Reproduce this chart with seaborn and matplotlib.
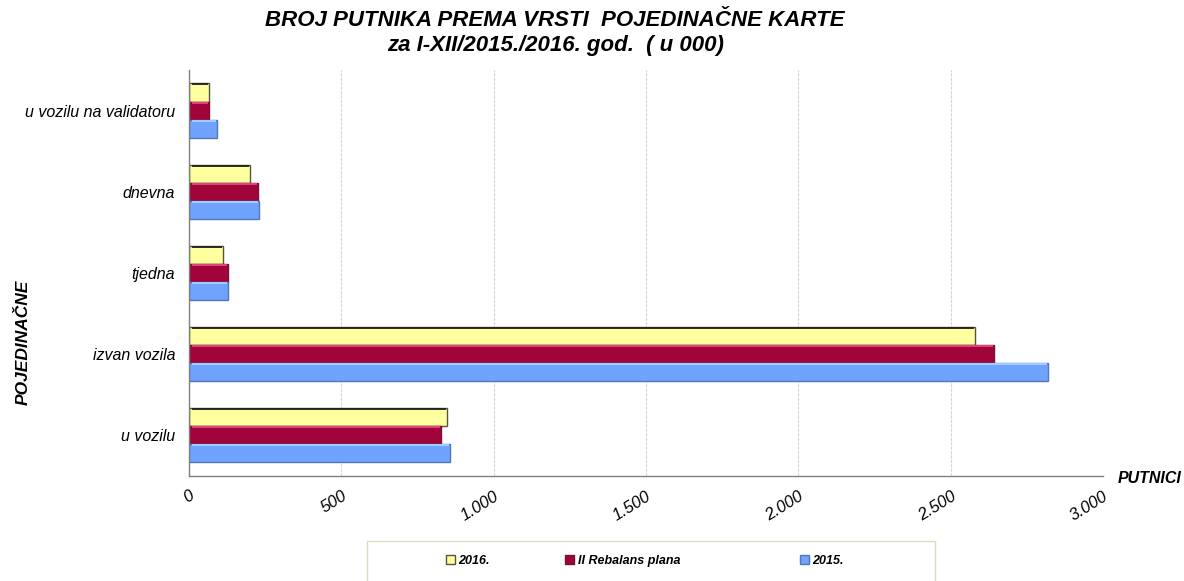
import matplotlib
matplotlib.use("Agg")
import matplotlib.pyplot as plt
import seaborn as sns
import pandas as pd

kategorije = ['u vozilu na validatoru', 'dnevna', 'tjedna', 'izvan vozila', 'u vozilu']
serije = ['2016.', 'II Rebalans plana', '2015.']
v2016 = [66, 200, 112, 2580, 847]
rebalans = [66, 226, 128, 2642, 827]
v2015 = [92, 230, 128, 2819, 857]
x_ticks = [0, 500, 1000, 1500, 2000, 2500, 3000]
x_labels = ['0', '500', '1.000', '1.500', '2.000', '2.500', '3.000']

boje = {'2016.': '#FFFFA0', 'II Rebalans plana': '#A0043A', '2015.': '#6FA3FF'}
rubovi = {'2016.': '#55553A', 'II Rebalans plana': '#7A1238', '2015.': '#5078B8'}
sjaj = {'2016.': '#202020', 'II Rebalans plana': '#E84A7E', '2015.': '#A8D4FF'}

rows = []
for serija, vals in zip(serije, [v2016, rebalans, v2015]):
    for k, v in zip(kategorije, vals):
        rows.append({'karta': k, 'serija': serija, 'putnici': v})
df = pd.DataFrame(rows)

sns.set_style("white")
plt.rcParams['font.family'] = ['Liberation Sans', 'DejaVu Sans']
for key in ['text.color', 'axes.labelcolor', 'xtick.color', 'ytick.color']:
    plt.rcParams[key] = 'black'

fig = plt.figure(figsize=(11.84, 5.81), dpi=100)
ax = fig.add_axes([0.1596, 0.181, 0.7720, 0.6985])

sns.barplot(data=df, y='karta', x='putnici', hue='serija', order=kategorije,
            hue_order=serije, palette=boje, orient='h', width=0.67,
            saturation=1, ax=ax, legend=False)

# rubovi i svjetlija gornja linija (3D dojam)
for cont, serija in zip(ax.containers, serije):
    for bar in cont:
        bar.set_edgecolor(rubovi[serija])
        bar.set_linewidth(1.0)
        y_top = bar.get_y()
        ax.plot([bar.get_x() + 10, bar.get_x() + bar.get_width() - 4],
                [y_top + 0.012, y_top + 0.012], color=sjaj[serija],
                linewidth=1.3, solid_capstyle='butt', zorder=bar.get_zorder() + 0.1)

ax.set_xlim(0, 3000)
ax.set_ylim(4.5, -0.5)
ax.set_xticks(x_ticks)
ax.set_xticklabels(x_labels, rotation=32, style='italic', fontsize=12,
                   ha='right', va='top', rotation_mode='anchor')
ax.tick_params(axis='y', labelsize=11.5, length=0, pad=10)
for t in ax.get_yticklabels():
    t.set_style('italic')
ax.tick_params(axis='x', length=0, pad=9)
ax.grid(axis='x', color='#D6D6D6', linestyle=(0, (3, 1)), linewidth=0.8)
ax.set_axisbelow(True)
for s in ['top', 'right']:
    ax.spines[s].set_visible(False)
for s in ['left', 'bottom']:
    ax.spines[s].set_color('#808080')
    ax.spines[s].set_linewidth(1.0)

ax.set_xlabel('')
ax.set_ylabel('')
fig.text(0.0194, 0.411, 'POJEDINAČNE', rotation=90, ha='center', va='center',
         fontsize=12.5, fontweight='bold', style='italic')
fig.text(0.971, 0.177, 'PUTNICI', ha='center', va='center',
         fontsize=11.5, fontweight='bold', style='italic')

fig.text(0.469, 0.965, 'BROJ PUTNIKA PREMA VRSTI  POJEDINAČNE KARTE',
         ha='center', va='center', fontsize=16, fontweight='bold', style='italic')
fig.text(0.469, 0.921, 'za I-XII/2015./2016. god.  ( u 000)',
         ha='center', va='center', fontsize=16, fontweight='bold', style='italic')

# okvir legende
okvir = plt.Rectangle((367 / 1184, -0.01), (935 - 367) / 1184, 0.078,
                      transform=fig.transFigure, facecolor='white',
                      edgecolor='#E0DCC0', linewidth=1.0)
fig.patches.append(okvir)

pozicije = [446, 565, 800]
for s, px in zip(serije, pozicije):
    h = plt.Rectangle((0, 0), 1, 1, facecolor=boje[s], edgecolor=rubovi[s])
    fig.legend([h], [s], loc='center left', bbox_to_anchor=(px / 1184, 0.034),
               frameon=False, handlelength=0.7, handleheight=0.7,
               handletextpad=0.3, borderpad=0, borderaxespad=0,
               prop={'weight': 'bold', 'style': 'italic', 'size': 9})

fig.savefig('out.png', dpi=100)
